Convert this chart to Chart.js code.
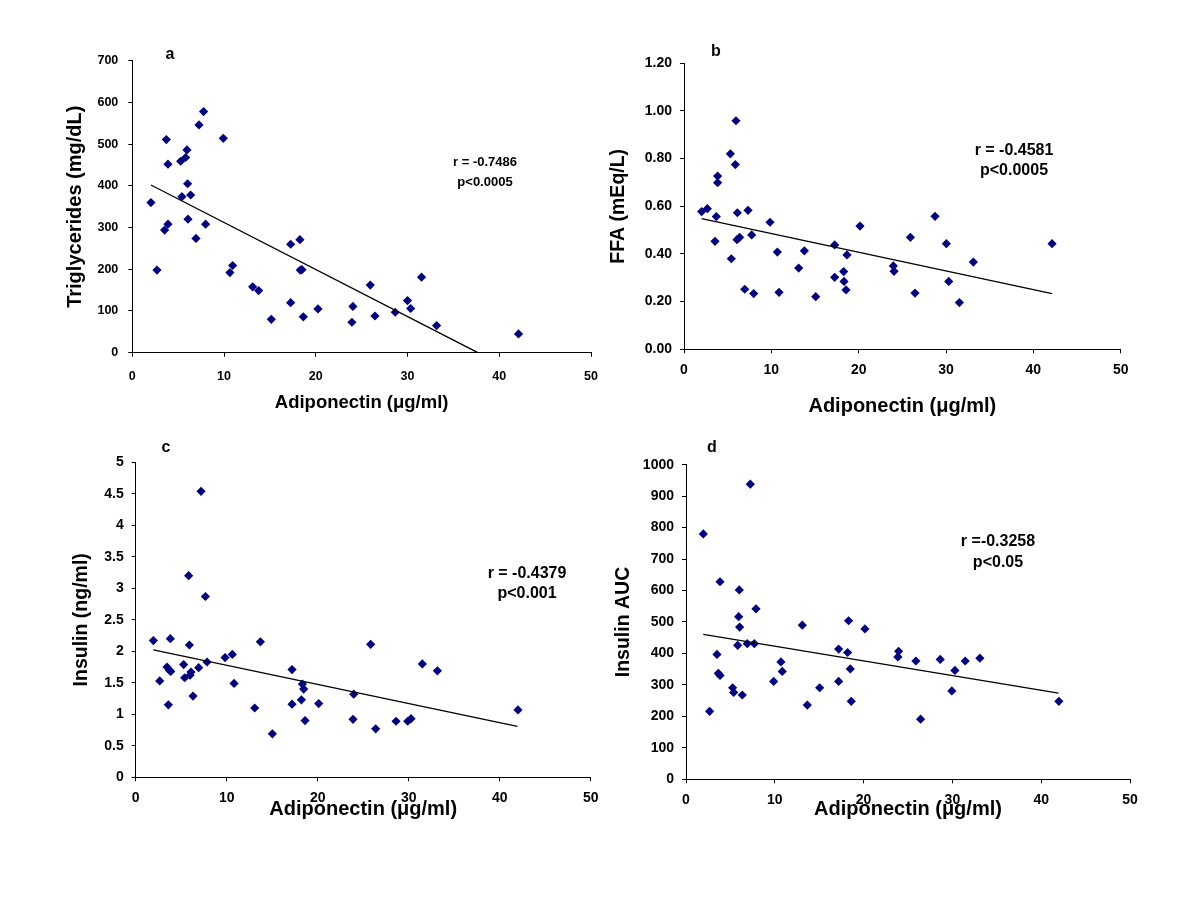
<!DOCTYPE html>
<html>
<head>
<meta charset="utf-8">
<script src="https://cdn.jsdelivr.net/npm/chart.js@4.4.1/dist/chart.umd.min.js"></script>
<style>
  body { margin: 0; background: #fff; width: 1200px; height: 900px; position: relative; overflow: hidden; }
  canvas { position: absolute; }
  .note { position: absolute; width: 200px; text-align: center; font-family: "Liberation Sans", Arial, sans-serif; font-weight: bold; color: #000; white-space: nowrap; }
</style>
</head>
<body>
<canvas id="chartA"></canvas>
<canvas id="chartB"></canvas>
<canvas id="chartC"></canvas>
<canvas id="chartD"></canvas>

<div class="note" style="left:70px;top:45px;font-size:16px;">a</div>
<div class="note" style="left:616px;top:42px;font-size:16px;">b</div>
<div class="note" style="left:66px;top:438px;font-size:16px;">c</div>
<div class="note" style="left:612px;top:438px;font-size:16px;">d</div>

<div class="note" style="left:385px;top:152px;font-size:13px;line-height:20px;">r = -0.7486<br>p&lt;0.0005</div>
<div class="note" style="left:914px;top:140px;font-size:16px;line-height:20px;">r = -0.4581<br>p&lt;0.0005</div>
<div class="note" style="left:427px;top:563px;font-size:16px;line-height:20px;">r = -0.4379<br>p&lt;0.001</div>
<div class="note" style="left:898px;top:530px;font-size:16px;line-height:21px;">r =-0.3258<br>p&lt;0.05</div>

<script>
// Tick labels
var xTicks = [0, 10, 20, 30, 40, 50];
var yTicksA = [0, 100, 200, 300, 400, 500, 600, 700];
var yTicksB = [0, 0.2, 0.4, 0.6, 0.8, 1.0, 1.2];
var yTicksC = [0, 0.5, 1, 1.5, 2, 2.5, 3, 3.5, 4, 4.5, 5];
var yTicksD = [0, 100, 200, 300, 400, 500, 600, 700, 800, 900, 1000];

// a - Triglycerides vs adiponectin
var adipoA = [2.03, 2.69, 3.52, 3.71, 3.89, 3.89, 5.27, 5.41, 5.81, 5.96, 6.03, 6.07, 6.36, 6.94, 7.27, 7.77, 7.99, 9.92, 10.64, 10.94,
              13.12, 13.77, 15.15, 17.26, 17.26, 18.27, 18.31, 18.49, 18.64, 20.24, 23.94, 24.05, 25.94, 26.45, 28.66, 30.0, 30.34, 31.53, 33.17, 42.1];
var trigA = [360, 198, 294, 511, 452, 308, 459, 374, 468, 486, 405, 320, 378, 274, 546, 578, 308, 514, 192, 209,
             158, 149, 80, 260, 120, 271, 198, 199, 86, 105, 73, 111, 162, 88, 97, 125, 106, 181, 65, 45];
var trendAx = [2.03, 37.67];
var trendAy = [402, 0];

// b - FFA vs adiponectin
var adipoB = [2.02, 2.67, 3.55, 3.70, 3.85, 3.85, 5.31, 5.42, 5.88, 5.95, 6.07, 6.11, 6.37, 6.95, 7.33, 7.75, 7.98, 9.85, 10.69, 10.88,
              13.13, 13.78, 15.08, 17.25, 17.25, 18.28, 18.32, 18.55, 18.66, 20.15, 23.97, 24.05, 25.92, 26.45, 28.74, 30.04, 30.31, 31.53, 33.13, 42.14];
var ffaB = [0.578, 0.590, 0.453, 0.557, 0.727, 0.699, 0.820, 0.380, 0.775, 0.959, 0.460, 0.573, 0.470, 0.252, 0.583, 0.480, 0.234, 0.533, 0.408, 0.239,
            0.341, 0.413, 0.221, 0.302, 0.438, 0.326, 0.285, 0.249, 0.396, 0.517, 0.350, 0.327, 0.470, 0.236, 0.558, 0.443, 0.285, 0.196, 0.366, 0.443];
var trendBx = [2.02, 42.14];
var trendBy = [0.548, 0.234];

// c - Insulin vs adiponectin
var adipoC = [1.94, 2.64, 3.44, 3.59, 3.70, 3.81, 3.85, 5.27, 5.38, 5.82, 5.90, 5.97, 6.08, 6.30, 6.92, 7.18, 7.66, 7.84, 9.82, 10.62, 10.81,
              13.08, 13.70, 15.02, 17.18, 17.18, 18.21, 18.32, 18.46, 18.61, 20.11, 23.88, 23.96, 25.82, 26.37, 28.61, 29.89, 30.26, 31.50, 33.15, 42.01];
var insulinC = [2.17, 1.53, 1.75, 1.15, 1.70, 2.20, 1.68, 1.79, 1.58, 3.20, 2.10, 1.62, 1.67, 1.29, 1.74, 4.54, 2.87, 1.83, 1.90, 1.95, 1.49,
                1.10, 2.15, 0.69, 1.71, 1.16, 1.23, 1.48, 1.40, 0.90, 1.17, 0.92, 1.32, 2.11, 0.77, 0.89, 0.89, 0.93, 1.80, 1.69, 1.07];
var trendCx = [1.94, 41.94];
var trendCy = [2.021, 0.810];

// d - Insulin AUC vs adiponectin
var adipoD = [1.95, 2.66, 3.49, 3.64, 3.83, 3.83, 5.25, 5.37, 5.82, 5.93, 6.00, 6.04, 6.34, 6.90, 7.24, 7.69, 7.88, 9.87, 10.69, 10.84,
              13.10, 13.66, 15.05, 17.19, 17.19, 18.20, 18.31, 18.50, 18.61, 20.15, 23.86, 23.94, 25.89, 26.42, 28.63, 29.94, 30.28, 31.44, 33.09, 41.99];
var aucD = [780, 216, 397, 337, 628, 330, 291, 276, 426, 517, 602, 484, 268, 431, 938, 431, 542, 311, 373, 343,
            490, 236, 291, 414, 311, 403, 504, 351, 248, 478, 389, 407, 376, 191, 381, 281, 346, 376, 385, 248];
var trendDx = [1.95, 41.95];
var trendDy = [461, 274];

var fontFamily = '"Liberation Sans", Arial, sans-serif';

function toPoints(xs, ys) {
    return xs.map(function (x, i) { return { x: x, y: ys[i] }; });
}

//Builds one panel: box is the canvas, area is the wanted plot area (page px)
function makePanel(id, box, area, pts, trend, yTicks, yFmt, yTitle, sizes) {
    var cv = document.getElementById(id);
    cv.width = box.w;
    cv.height = box.h;
    cv.style.left = box.x + "px";
    cv.style.top = box.y + "px";

    var xHalf = sizes.xTitle * 1.2 / 2;
    var yHalf = sizes.yTitle * 1.2 / 2;

    new Chart(cv, {
        type: "scatter",
        data: {
            datasets: [{
                type: "line",
                data: toPoints(trend[0], trend[1]),
                borderColor: "#000",
                borderWidth: 1.3,
                pointRadius: 0,
                fill: false,
                order: 0
            }, {
                data: toPoints(pts[0], pts[1]),
                pointStyle: "rectRot",
                pointRadius: 4.6,
                backgroundColor: "#000080",
                borderColor: "#000080",
                borderWidth: 0,
                order: 1
            }]
        },
        options: {
            responsive: false,
            animation: false,
            layout: {
                padding: { left: 0, top: area.t - box.y, right: box.x + box.w - area.r, bottom: 0 }
            },
            plugins: {
                legend: { display: false },
                tooltip: { enabled: false }
            },
            scales: {
                x: {
                    type: "linear",
                    min: 0,
                    max: 50,
                    afterBuildTicks: function (s) { s.ticks = xTicks.map(function (v) { return { value: v }; }); },
                    afterFit: function (s) { s.height = box.y + box.h - area.b; },
                    grid: { drawOnChartArea: false, drawTicks: true, tickLength: 4, color: "#000", tickColor: "#000" },
                    border: { display: true, color: "#000", width: 1 },
                    ticks: { color: "#000", padding: sizes.xPad, maxRotation: 0, autoSkip: false,
                             font: { family: fontFamily, size: sizes.tick, weight: "bold" } },
                    title: { display: true, text: "Adiponectin (\u03bcg/ml)", color: "#000",
                             font: { family: fontFamily, size: sizes.xTitle, weight: "bold" },
                             padding: { top: 0, bottom: box.y + box.h - area.xTitle - xHalf } }
                },
                y: {
                    type: "linear",
                    min: yTicks[0],
                    max: yTicks[yTicks.length - 1],
                    afterBuildTicks: function (s) { s.ticks = yTicks.map(function (v) { return { value: v }; }); },
                    afterFit: function (s) { s.width = area.l - box.x; },
                    grid: { drawOnChartArea: false, drawTicks: true, tickLength: 4, color: "#000", tickColor: "#000" },
                    border: { display: true, color: "#000", width: 1 },
                    ticks: { color: "#000", padding: sizes.yPad, autoSkip: false, callback: yFmt,
                             font: { family: fontFamily, size: sizes.tick, weight: "bold" } },
                    title: { display: true, text: yTitle, color: "#000",
                             font: { family: fontFamily, size: sizes.yTitle, weight: "bold" },
                             padding: { top: area.yTitle - box.x - yHalf, bottom: 0 } }
                }
            }
        }
    });
}

function plainFmt(v) { return String(v); }
function twoDecFmt(v) { return v.toFixed(2); }

makePanel("chartA", { x: 0, y: 30, w: 615, h: 400 },
    { l: 132.3, r: 591, t: 60.7, b: 352.7, yTitle: 75, xTitle: 403 },
    [adipoA, trigA], [trendAx, trendAy], yTicksA, plainFmt, "Triglycerides (mg/dL)",
    { tick: 12.5, xTitle: 18.5, yTitle: 20, xPad: 12, yPad: 10 });

makePanel("chartB", { x: 600, y: 30, w: 580, h: 400 },
    { l: 684, r: 1120.7, t: 63.3, b: 349.3, yTitle: 619, xTitle: 406 },
    [adipoB, ffaB], [trendBx, trendBy], yTicksB, twoDecFmt, "FFA (mEq/L)",
    { tick: 14, xTitle: 20, yTitle: 19.5, xPad: 8, yPad: 8 });

makePanel("chartC", { x: 0, y: 430, w: 615, h: 420 },
    { l: 135.7, r: 590.7, t: 462.3, b: 777.3, yTitle: 81.7, xTitle: 809 },
    [adipoC, insulinC], [trendCx, trendCy], yTicksC, plainFmt, "Insulin (ng/ml)",
    { tick: 14, xTitle: 20, yTitle: 19.5, xPad: 8, yPad: 8 });

makePanel("chartD", { x: 600, y: 430, w: 580, h: 420 },
    { l: 686, r: 1130, t: 464.7, b: 779.3, yTitle: 623.3, xTitle: 809 },
    [adipoD, aucD], [trendDx, trendDy], yTicksD, plainFmt, "Insulin AUC",
    { tick: 14, xTitle: 20, yTitle: 19.5, xPad: 8, yPad: 8 });
</script>
</body>
</html>
